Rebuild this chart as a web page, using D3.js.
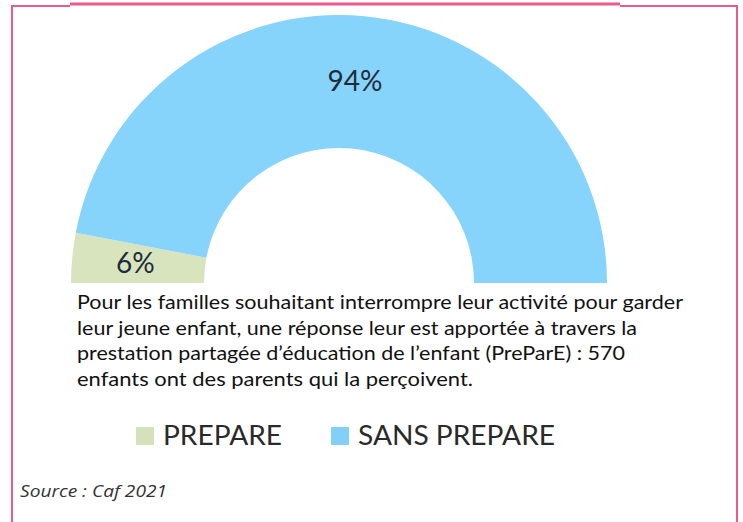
<!DOCTYPE html>
<html>
<head>
<meta charset="utf-8">
<script src="https://cdn.jsdelivr.net/npm/d3@7"></script>
<style>
  body { margin: 0; background: #fff; }
</style>
</head>
<body>
<div id="chart-area"></div>
<script>
// data
var categories = ["PREPARE", "SANS PREPARE"];
var values = [6, 94];
var colors = ["#d8e4bd", "#86d3fb"];
var legendColors = ["#d3e2bb", "#82d0f8"];
var textLines = [
    "Pour les familles souhaitant interrompre leur activité pour garder",
    "leur jeune enfant, une réponse leur est apportée à travers la",
    "prestation partagée d’éducation de l’enfant (PreParE) : 570",
    "enfants ont des parents qui la perçoivent."
];
var lineWidths = [606, 560, 548, 396];
var source = "Source : Caf 2021";

var w = 743, h = 522;
var cx = 339, cy = 283;
var outerR = 268, innerR = 135;

var svg = d3.select("#chart-area").append("svg")
    .attr("width", w)
    .attr("height", h);

// pink frame
var pink = "#f0578a";
svg.append("path")
    .attr("d", "M12,522 V6 H70")
    .attr("fill", "none").attr("stroke", pink).attr("stroke-width", 2);
svg.append("path")
    .attr("d", "M620,6 H737 V522")
    .attr("fill", "none").attr("stroke", pink).attr("stroke-width", 2);
svg.append("line")
    .attr("x1", 70).attr("x2", 620).attr("y1", 4).attr("y2", 4)
    .attr("stroke", pink).attr("stroke-width", 3);

var data = categories.map(function (c, i) { return {name: c, value: values[i]}; });

var pie = d3.pie()
    .sort(null)
    .value(function (d) { return d.value; })
    .startAngle(-Math.PI / 2)
    .endAngle(Math.PI / 2);

var arc = d3.arc()
    .innerRadius(innerR)
    .outerRadius(outerR);

var group = svg.append("g")
    .attr("transform", "translate(" + cx + "," + cy + ")");

var slices = group.selectAll("g.slice")
    .data(pie(data))
    .enter().append("g")
    .attr("class", "slice");

slices.append("path")
    .attr("d", arc)
    .attr("fill", function (d, i) { return colors[i]; });

slices.append("text")
    .attr("transform", function (d) {
        var c = arc.centroid(d);
        return "translate(" + (c[0] - 3) + "," + (c[1] + 2) + ")";
    })
    .attr("text-anchor", "middle")
    .attr("dominant-baseline", "middle")
    .attr("font-family", "Lato, 'Open Sans', sans-serif")
    .attr("font-size", "28px")
    .attr("fill", "#1f2b3a")
    .text(function (d) {
        var total = d3.sum(values);
        return Math.round(d.data.value / total * 100) + "%";
    });

// paragraph
svg.selectAll("text.para")
    .data(textLines)
    .enter().append("text")
    .attr("class", "para")
    .attr("x", 77)
    .attr("y", function (d, i) { return 309 + i * 25.7; })
    .attr("font-family", "Lato, 'Open Sans', sans-serif")
    .attr("font-size", "20px")
    .attr("fill", "#111")
    .attr("textLength", function (d, i) { return lineWidths[i]; })
    .attr("lengthAdjust", "spacingAndGlyphs")
    .text(function (d) { return d; });

// legend
var legendX = [136, 331];
var legend = svg.selectAll("g.legend")
    .data(categories)
    .enter().append("g")
    .attr("class", "legend")
    .attr("transform", function (d, i) { return "translate(" + legendX[i] + ",427)"; });

legend.append("rect")
    .attr("width", 18)
    .attr("height", 18)
    .attr("fill", function (d, i) { return legendColors[i]; });

legend.append("text")
    .attr("x", 27)
    .attr("y", 18)
    .attr("font-family", "Lato, 'Open Sans', sans-serif")
    .attr("font-size", "26px")
    .attr("fill", "#2a2a2a")
    .attr("textLength", function (d, i) { return i === 0 ? 119 : 197; })
    .attr("lengthAdjust", "spacingAndGlyphs")
    .text(function (d) { return d; });

// source
svg.append("text")
    .attr("x", 20)
    .attr("y", 497)
    .attr("font-family", "'Open Sans', sans-serif")
    .attr("font-style", "italic")
    .attr("font-size", "16px")
    .attr("fill", "#333")
    .attr("textLength", 147)
    .attr("lengthAdjust", "spacingAndGlyphs")
    .text(source);
</script>
</body>
</html>
